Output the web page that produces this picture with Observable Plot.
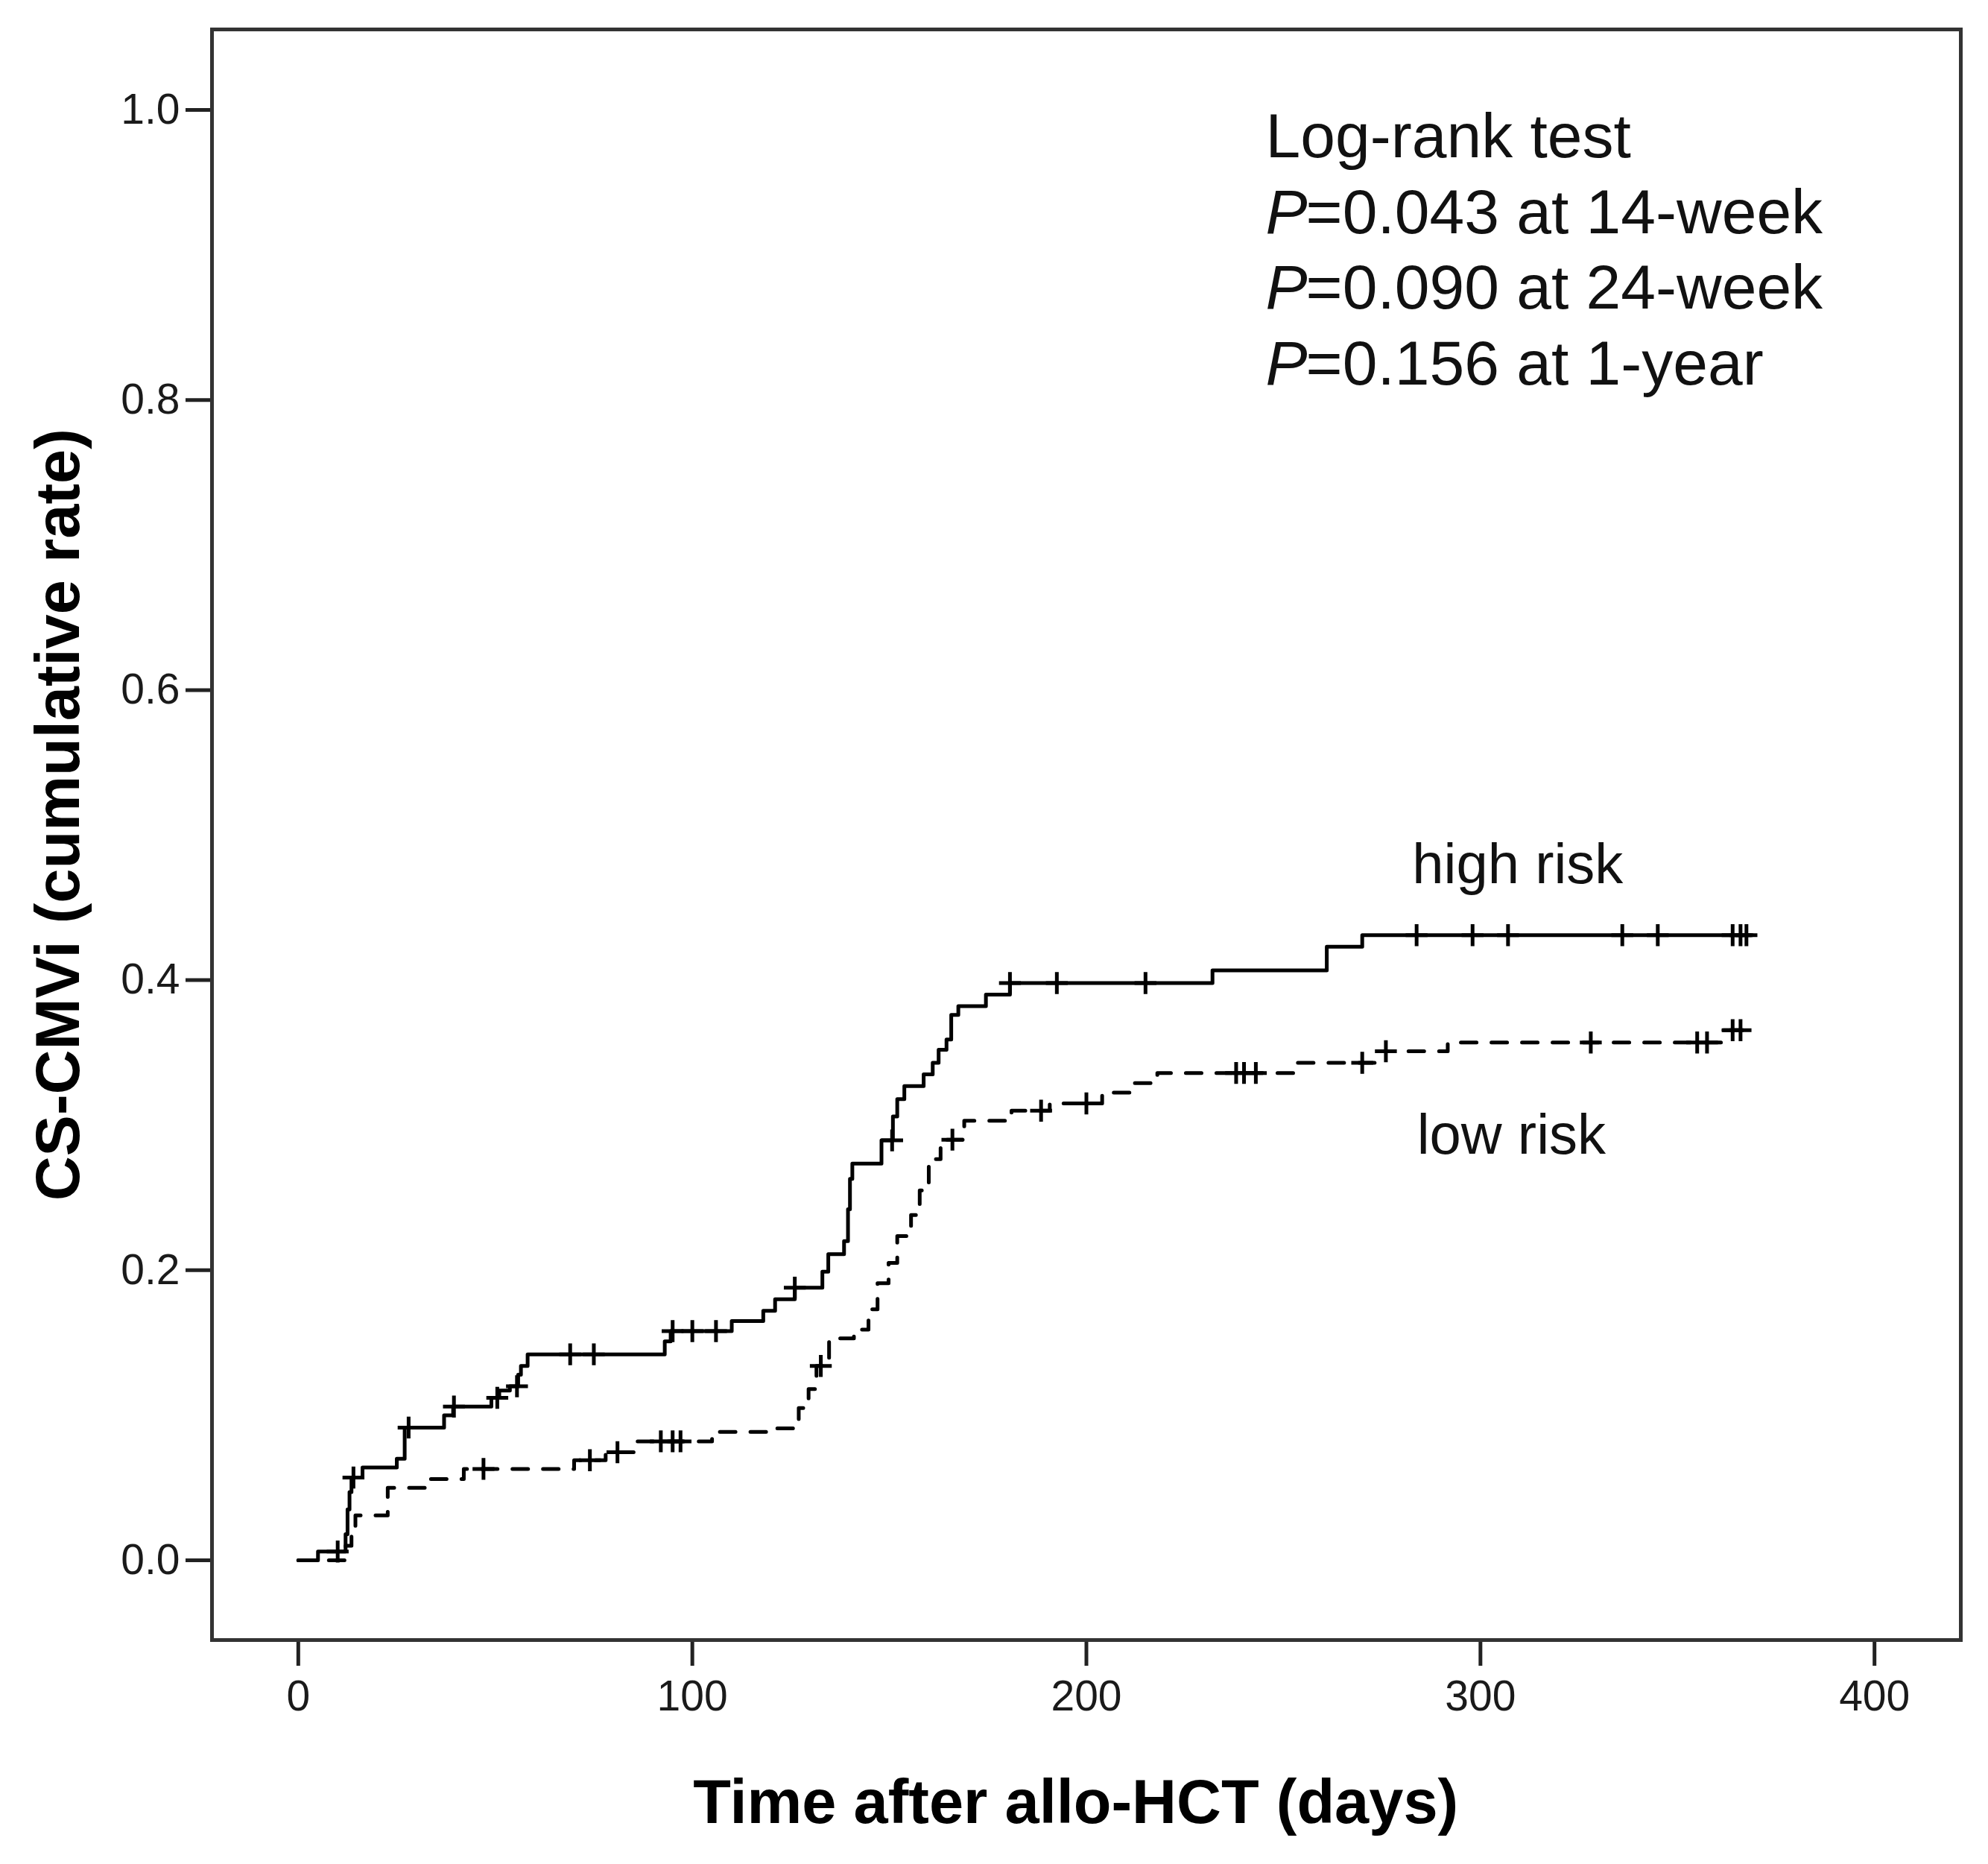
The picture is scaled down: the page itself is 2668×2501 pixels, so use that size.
<!DOCTYPE html>
<html>
<head>
<meta charset="utf-8">
<script src="https://cdn.jsdelivr.net/npm/d3@7"></script>
<script src="https://cdn.jsdelivr.net/npm/@observablehq/plot@0.6"></script>
<style>
  html, body { margin: 0; padding: 0; background: #ffffff; }
  #chart svg { display: block; }
</style>
</head>
<body>
<div id="chart"></div>
<script>
// ---- data ----
const highTime = [0, 5, 12, 12.5, 13, 13.5, 16.3, 25, 27, 37, 39.3, 49, 51, 53.7, 55.8, 56.5, 58.2, 93, 94.5, 110, 118, 121, 126, 133, 134.5, 138.5, 139.5, 140, 140.6, 148, 150.9, 152, 153.8, 158.7, 161, 162.5, 164.5, 165.7, 167.5, 174.5, 180.6, 232, 261, 270, 369];
const highRate = [0, 0.006, 0.018, 0.035, 0.047, 0.057, 0.064, 0.070, 0.0915, 0.100, 0.106, 0.112, 0.117, 0.120, 0.128, 0.134, 0.142, 0.151, 0.158, 0.165, 0.172, 0.180, 0.188, 0.199, 0.211, 0.220, 0.242, 0.263, 0.2735, 0.2895, 0.306, 0.318, 0.327, 0.335, 0.343, 0.352, 0.359, 0.376, 0.382, 0.390, 0.398, 0.4067, 0.423, 0.431, 0.431];
const highCensor = [10, 14, 28, 39.5, 50.5, 55.5, 69, 75, 95, 100, 106, 126, 150.7, 180.6, 192.5, 215, 283.8, 298, 307, 336, 345, 364, 366, 367.5];

const lowTime = [0, 12, 13.5, 14.5, 22.7, 33, 42, 70, 78, 86, 105, 121.5, 127, 129.5, 131.5, 134.7, 141, 144.7, 147, 149.8, 152, 155.5, 157.7, 160, 163, 169, 181, 190.7, 204, 211, 218, 253, 274, 291.7, 361.6, 367];
const lowRate = [0, 0.010, 0.020, 0.031, 0.050, 0.056, 0.063, 0.069, 0.0745, 0.082, 0.0885, 0.091, 0.105, 0.118, 0.134, 0.153, 0.159, 0.173, 0.191, 0.205, 0.2235, 0.238, 0.255, 0.2766, 0.290, 0.303, 0.310, 0.315, 0.3225, 0.329, 0.336, 0.343, 0.351, 0.357, 0.3655, 0.3655];
const lowCensor = [47, 74, 81, 92, 95, 97, 132.6, 166, 188.5, 200, 238, 240, 243, 270, 276, 328, 355, 357.5, 364, 366];

const xTicks = [0, 100, 200, 300, 400];
const yTicks = [0, 0.2, 0.4, 0.6, 0.8, 1.0];

const pLines = ["=0.043 at 14-week", "=0.090 at 24-week", "=0.156 at 1-year"];
const testTitle = "Log-rank test";
const groupLabels = ["high risk", "low risk"];
const xTitle = "Time after allo-HCT (days)";
const yTitle = "CS-CMVi (cumulative rate)";

// ---- derived tables ----
const high = highTime.map((t, i) => ({t, v: highRate[i]}));
const low = lowTime.map((t, i) => ({t, v: lowRate[i]}));
function stepAt(times, rates, t) {
  const i = d3.bisectRight(times, t) - 1;
  return rates[Math.max(0, i)];
}
const censors = [
  ...highCensor.map(t => ({t, v: stepAt(highTime, highRate, t)})),
  ...lowCensor.map(t => ({t, v: stepAt(lowTime, lowRate, t)}))
];

const font = "'Liberation Sans', Arial, Helvetica, sans-serif";

const chart = Plot.plot({
  width: 2668,
  height: 2501,
  marginLeft: 284,
  marginRight: 37,
  marginTop: 39,
  marginBottom: 301,
  style: {fontFamily: font, background: "#ffffff", color: "#1a1a1a", overflow: "visible"},
  x: {domain: [-21.9, 421.9]},
  y: {domain: [-0.055, 1.0555]},
  marks: [
    Plot.axisX({ticks: xTicks, tickSize: 35, tickPadding: 19, strokeWidth: 5, fontSize: 57, label: null, stroke: "#222"}),
    Plot.axisY({ticks: yTicks, tickSize: 35, tickPadding: 8, strokeWidth: 5, fontSize: 57, label: null, tickFormat: d3.format(".1f"), stroke: "#222"}),
    Plot.frame({stroke: "#333", strokeWidth: 5}),
    Plot.line(high, {x: "t", y: "v", curve: "step-after", stroke: "#000", strokeWidth: 5}),
    Plot.line(low, {x: "t", y: "v", curve: "step-after", stroke: "#000", strokeWidth: 5, strokeDasharray: "21,20"}),
    Plot.dot(censors, {x: "t", y: "v", symbol: "plus", r: 9.5, stroke: "#000", strokeWidth: 5}),
    // annotation block
    Plot.text([testTitle], {x: 245.5, y: 0.9676, text: d => d, textAnchor: "start", lineAnchor: "bottom", fontSize: 84, fill: "#111"}),
    Plot.text(pLines, {x: 245.5, y: (d, i) => 0.9152 - i * 0.0524, text: () => "P", textAnchor: "start", lineAnchor: "bottom", fontSize: 84, fontStyle: "italic", fill: "#111"}),
    Plot.text(pLines, {x: 245.5, y: (d, i) => 0.9152 - i * 0.0524, text: d => d, dx: 54, textAnchor: "start", lineAnchor: "bottom", fontSize: 84, fill: "#111"}),
    // group labels
    Plot.text([groupLabels[0]], {x: 282.7, y: 0.4666, text: d => d, textAnchor: "start", lineAnchor: "bottom", fontSize: 76, fill: "#111"}),
    Plot.text([groupLabels[1]], {x: 283.9, y: 0.2801, text: d => d, textAnchor: "start", lineAnchor: "bottom", fontSize: 76, fill: "#111"}),
    // axis titles
    Plot.text([xTitle], {x: 197.3, y: -0.1814, text: d => d, textAnchor: "middle", lineAnchor: "bottom", fontSize: 83, fontWeight: "bold", fill: "#000"}),
    Plot.text([yTitle], {x: -55.6, y: 0.514, text: d => d, textAnchor: "middle", lineAnchor: "bottom", rotate: -90, fontSize: 83, fontWeight: "bold", fill: "#000"})
  ]
});
document.getElementById("chart").appendChild(chart);
</script>
</body>
</html>
